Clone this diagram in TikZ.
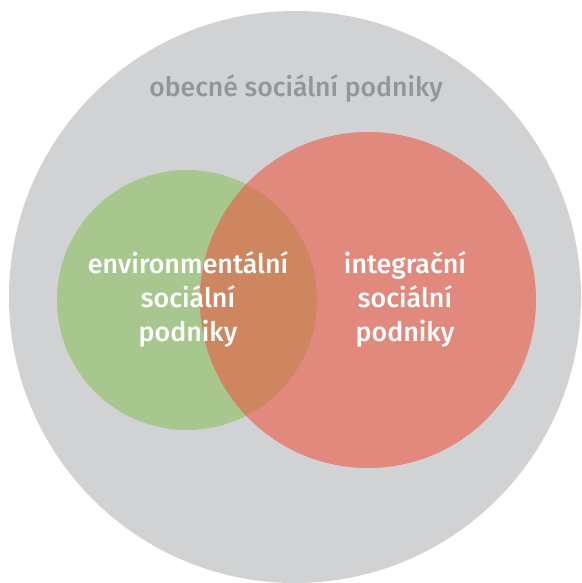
\documentclass[tikz,border=0pt]{standalone}
\usepackage{fontspec}
\setmainfont{Fira Sans Medium}
\definecolor{bggray}{HTML}{D1D2D4}
\definecolor{titlegray}{HTML}{939598}
\definecolor{envgreen}{HTML}{A7C78F}
\definecolor{intred}{HTML}{E0897C}
\definecolor{overlap}{HTML}{CD8660}
\begin{document}
\begin{tikzpicture}[x=1pt,y=-1pt,
  setlabel/.style={text=white,font=\fontsize{26.8}{34}\selectfont,align=center,inner sep=0pt},
  titlelabel/.style={text=titlegray,font=\fontsize{26.6}{30}\selectfont,inner sep=0pt}]
\useasboundingbox (0,0) rectangle (581,583);
\fill[bggray] (295,297) circle (286);
\fill[envgreen] (187,300) circle (130);
\fill[intred] (368,300) circle (168);
\begin{scope}
  \clip (187,300) circle (130);
  \fill[overlap] (368,300) circle (168);
\end{scope}
\node[titlelabel] (general) at (296,88) {obecné sociální podniky};
\node[setlabel] (env) at (188,299) {environmentální\\sociální\\podniky};
\node[setlabel] (int) at (405,299) {integrační\\sociální\\podniky};
\end{tikzpicture}
\end{document}
